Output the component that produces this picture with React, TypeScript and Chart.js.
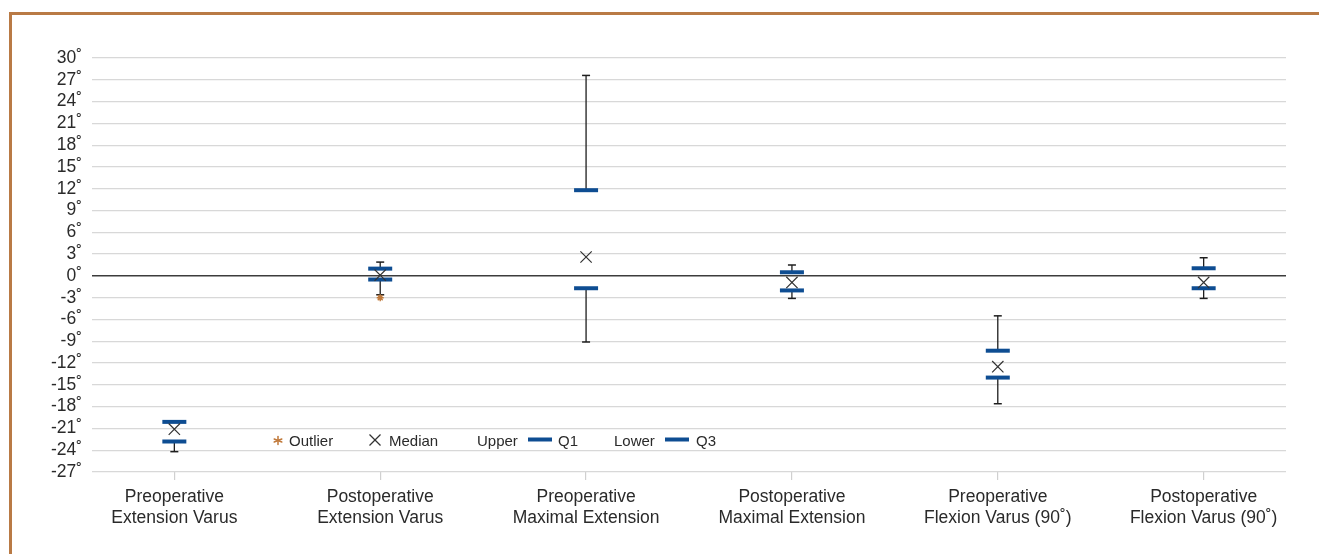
import React, { useEffect, useRef } from 'react';
import { Chart, registerables } from 'chart.js';

Chart.register(...registerables);

const categories: string[][] = [
  ['Preoperative', 'Extension Varus'],
  ['Postoperative', 'Extension Varus'],
  ['Preoperative', 'Maximal Extension'],
  ['Postoperative', 'Maximal Extension'],
  ['Preoperative', 'Flexion Varus (90˚)'],
  ['Postoperative', 'Flexion Varus (90˚)'],
];
const whiskerMax = [-20.1, 1.9, 27.6, 1.5, -5.5, 2.5];
const quartileUpper = [-20.1, 1.0, 11.8, 0.5, -10.3, 1.05];
const medians = [-21.1, 0.1, 2.6, -0.9, -12.5, -0.9];
const quartileLower = [-22.8, -0.5, -1.7, -2.0, -14.0, -1.7];
const whiskerMin = [-24.2, -2.6, -9.1, -3.1, -17.6, -3.1];
const outlierCategory = [1];
const outlierValue = [-3.0];
const yMin = -27;
const yMax = 30;
const yStep = 3;

const FONT = '"Liberation Sans", Arial, Helvetica, sans-serif';
const BLUE = '#0e4d92';
const DARK = '#1e1e1e';
const ORANGE = '#c0793a';

export default function App() {
  const ref = useRef<HTMLCanvasElement | null>(null);

  useEffect(() => {
    if (!ref.current) return;
    const whiskerData: any[] = [];
    categories.forEach((_, i) => {
      whiskerData.push({ x: i, y: whiskerMax[i] });
      whiskerData.push({ x: i, y: quartileUpper[i] });
      whiskerData.push({ x: i, y: null });
      whiskerData.push({ x: i, y: quartileLower[i] });
      whiskerData.push({ x: i, y: whiskerMin[i] });
      whiskerData.push({ x: i, y: null });
    });
    const capData: any[] = [];
    categories.forEach((_, i) => {
      capData.push({ x: i, y: whiskerMax[i] });
      capData.push({ x: i, y: whiskerMin[i] });
    });
    const chart = new Chart(ref.current, {
      type: 'scatter',
      data: {
        datasets: [
          {
            label: 'Outlier',
            data: outlierCategory.map((c, k) => ({ x: c, y: outlierValue[k] })),
            pointStyle: 'star',
            pointRadius: 3.5,
            borderWidth: 1.4,
            borderColor: ORANGE,
            backgroundColor: ORANGE,
            order: 0,
          },
          {
            label: 'Median',
            data: medians.map((v, i) => ({ x: i, y: v })),
            pointStyle: 'crossRot',
            pointRadius: 8,
            borderWidth: 1.2,
            borderColor: '#333',
            backgroundColor: '#333',
            order: 1,
          },
          {
            label: 'Q1',
            data: quartileUpper.map((v, i) => ({ x: i, y: v })),
            pointStyle: 'line',
            pointRadius: 12,
            borderWidth: 4,
            borderColor: BLUE,
            backgroundColor: BLUE,
            order: 2,
          },
          {
            label: 'Q3',
            data: quartileLower.map((v, i) => ({ x: i, y: v })),
            pointStyle: 'line',
            pointRadius: 12,
            borderWidth: 4,
            borderColor: BLUE,
            backgroundColor: BLUE,
            order: 3,
          },
          {
            label: 'Caps',
            data: capData,
            pointStyle: 'line',
            pointRadius: 4,
            borderWidth: 1.5,
            borderColor: DARK,
            backgroundColor: DARK,
            order: 4,
          },
          {
            label: 'Whiskers',
            data: whiskerData,
            showLine: true,
            spanGaps: false,
            pointRadius: 0,
            borderWidth: 1.3,
            borderColor: DARK,
            order: 5,
          } as any,
        ],
      },
      options: {
        animation: false,
        responsive: false,
        devicePixelRatio: 1,
        layout: { padding: { left: 0, right: 33, top: 58, bottom: 0 } },
        plugins: { legend: { display: false }, tooltip: { enabled: false } },
        events: [],
        scales: {
          x: {
            type: 'linear',
            min: -0.4,
            max: 5.4,
            afterFit: (s: any) => {
              s.height = 82;
            },
            afterBuildTicks: (s: any) => {
              s.ticks = categories.map((_, i) => ({ value: i }));
            },
            ticks: {
              autoSkip: false,
              maxRotation: 0,
              minRotation: 0,
              padding: 6,
              color: '#2a2a2a',
              font: { family: FONT, size: 17.5, lineHeight: 1.24 },
              callback: (v: any) => categories[Math.round(Number(v))] ?? '',
            },
            grid: {
              drawOnChartArea: false,
              drawTicks: true,
              tickLength: 8,
              color: '#d0d0d0',
              lineWidth: 1.2,
            },
            border: { display: false },
          },
          y: {
            type: 'linear',
            min: yMin,
            max: yMax,
            afterFit: (s: any) => {
              s.width = 92;
            },
            ticks: {
              stepSize: yStep,
              autoSkip: false,
              padding: 10,
              color: '#2a2a2a',
              font: { family: FONT, size: 17.5 },
              callback: (v: any) => `${v}˚`,
            },
            grid: {
              drawTicks: false,
              color: (ctx: any) => (ctx.tick && ctx.tick.value === 0 ? '#3c3c3c' : '#d8d8d8'),
              lineWidth: (ctx: any) => (ctx.tick && ctx.tick.value === 0 ? 1.6 : 1.3),
            },
            border: { display: false },
          },
        },
      },
    });
    return () => chart.destroy();
  }, []);

  const legendText: React.CSSProperties = {
    position: 'absolute',
    top: 433,
    fontFamily: FONT,
    fontSize: 15,
    lineHeight: '15px',
    color: '#2a2a2a',
    whiteSpace: 'nowrap',
  };

  return (
    <div style={{ position: 'absolute', left: 0, top: 0, width: 1319, height: 554, overflow: 'hidden', background: '#fff' }}>
      <div
        style={{
          position: 'absolute',
          left: 9,
          top: 12,
          width: 1400,
          height: 700,
          border: '3px solid #b97a45',
          boxSizing: 'border-box',
        }}
      />
      <canvas ref={ref} width={1319} height={554} style={{ position: 'absolute', left: 0, top: 0, width: 1319, height: 554 }} />
      <svg style={{ position: 'absolute', left: 0, top: 0 }} width={1319} height={554}>
        <g stroke={ORANGE} strokeWidth={1.5} strokeLinecap="round">
          <line x1={278} y1={436.5} x2={278} y2={444.5} />
          <line x1={274.2} y1={439} x2={281.8} y2={442} />
          <line x1={274.2} y1={442} x2={281.8} y2={439} />
        </g>
        <g stroke="#333" strokeWidth={1.2}>
          <line x1={369.5} y1={434.5} x2={380.5} y2={445.5} />
          <line x1={369.5} y1={445.5} x2={380.5} y2={434.5} />
        </g>
        <line x1={528} y1={439.5} x2={552} y2={439.5} stroke={BLUE} strokeWidth={4} />
        <line x1={665} y1={439.5} x2={689} y2={439.5} stroke={BLUE} strokeWidth={4} />
      </svg>
      <span style={{ ...legendText, left: 289 }}>Outlier</span>
      <span style={{ ...legendText, left: 389 }}>Median</span>
      <span style={{ ...legendText, left: 477 }}>Upper</span>
      <span style={{ ...legendText, left: 558 }}>Q1</span>
      <span style={{ ...legendText, left: 614 }}>Lower</span>
      <span style={{ ...legendText, left: 696 }}>Q3</span>
    </div>
  );
}
